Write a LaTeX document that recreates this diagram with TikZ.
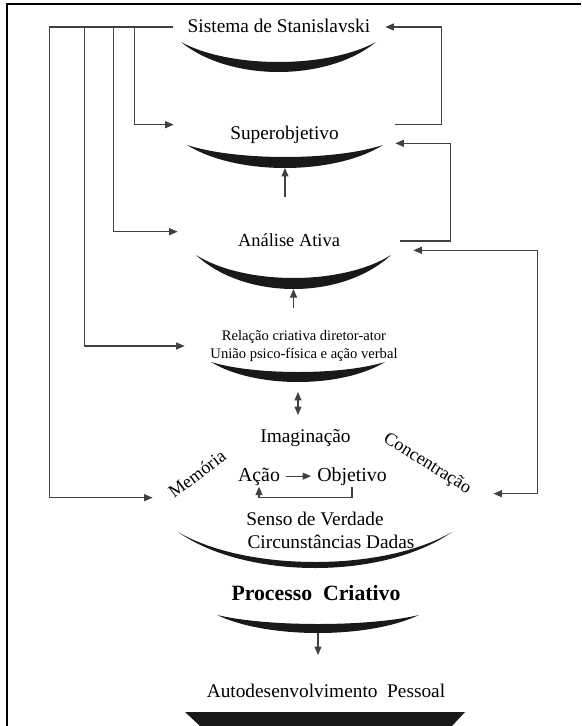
\documentclass[tikz,border=0pt]{standalone}
\usepackage{fontspec}
\setmainfont{Liberation Serif}
\usetikzlibrary{arrows.meta}
\tikzset{
  conn/.style={draw=black!75, line width=0.6pt, -{Triangle[length=1.7mm,width=1.4mm]}},
  dconn/.style={draw=black!75, line width=0.6pt, {Triangle[length=1.7mm,width=1.4mm]}-{Triangle[length=1.7mm,width=1.4mm]}},
  txt/.style={font=\fontsize{11}{13}\selectfont},
  lvl/.style={txt, inner ysep=0pt, text height=8.5pt, text depth=1.7pt},
  pair/.style={font=\fontsize{11.3}{13}\selectfont, inner ysep=1pt, text height=7.5pt, text depth=2pt, anchor=base},
  slant/.style={font=\fontsize{10.3}{12}\selectfont},
  pics/bowl/.style n args={3}{code={
    \fill[black!90] (-#1,0) .. controls (-#1/2,{4*#2/3}) and (#1/2,{4*#2/3}) .. (#1,0)
      .. controls (#1/2,{4*(#2-#3)/3}) and (-#1/2,{4*(#2-#3)/3}) .. (-#1,0) -- cycle;
    \coordinate (-bot) at (0,#2);
  }}
}
\begin{document}
\begin{tikzpicture}[x=0.02cm, y=-0.02cm]
        \useasboundingbox (0,0) rectangle (581,726);

        \node[lvl, minimum width=4.24cm] (sist) at (279,27) {Sistema de Stanislavski};
        \node[lvl, minimum width=4.42cm] (super) at (284.5,134) {Superobjetivo};
        \node[lvl, minimum width=4.44cm, font=\fontsize{10.5}{13}\selectfont] (analise) at (289,241) {Análise Ativa};
        \node[font=\fontsize{8.3}{10.2}\selectfont, align=center, minimum width=4.76cm] (relacao) at (304,346) {Relação criativa diretor-ator\\União psico-física e ação verbal};
        \node[txt, anchor=base] (imag) at (305.5,442) {Imaginação};
        \node[slant, rotate=37] (memoria) at (197,474) {Memória};
        \node[slant, rotate=-32] (concentr) at (427,464) {Concentração};
        \node[pair] (acao) at (259,481) {Ação};
        \node[pair] (objetivo) at (352,481) {Objetivo};
        \node[txt, anchor=base] (senso) at (315,525) {Senso de Verdade};
        \node[txt, anchor=base] (circ) at (331,548) {Circunstâncias Dadas};
        \node[font=\bfseries\fontsize{12.4}{15}\selectfont, anchor=base] (processo) at (316,600) {Processo\ \ Criativo};
        \node[txt, anchor=base] (auto) at (326,697) {Autodesenvolvimento\ \ Pessoal};

        \pic (b1) at (278.5,42) {bowl={97.5}{30}{10}};
        \pic (b2) at (285,145) {bowl={98}{23}{11}};
        \pic (b3) at (293.5,255) {bowl={97.5}{34}{11}};
        \pic (b4) at (298,362) {bowl={87}{20}{10}};
        \pic (b5) at (315,532) {bowl={137}{36}{6}};
        \pic (b6) at (318,615) {bowl={101}{18}{9}};
        \fill[black!90] (185,712) -- (465,712) -- (452,726) -- (200,726) -- cycle;

        \coordinate (u2) at (285,197);
        \coordinate (u3) at (293.5,308);
        \coordinate (u4) at (298,415);
        \coordinate (d6) at (318,655);

        \draw[conn] (u2) -- (b2-bot);
        \draw[conn] (u3) -- (b3-bot);
        \draw[dconn, shorten <=0.2cm] (b4-bot) -- (u4);
        \draw[conn] (b6-bot) -- (d6);
        \draw[conn] (acao) -- (objetivo);
        \draw[conn] (objetivo.south) -- ++(0,11) -| (acao.south);

        \draw[conn] (sist.west) -- ++(-38,0) |- (super.north west);
        \draw[conn] (sist.west) -- ++(-59,0) |- (analise.north west);
        \draw[conn] (sist.west) -- ++(-88,0) |- (relacao.west);
        \draw[conn, shorten >=0.26cm] (sist.west) -- ++(-123,0) |- (memoria.west);

        \draw[conn] (super.north east) -- ++(46,0) |- (sist.east);
        \draw[conn] (analise.east) -- ++(50,0) |- (super.south east);
        \draw[dconn, shorten <=0.38cm, shorten >=0.26cm] (concentr.east) -- ++(63,0) |- (analise.south east);

        \draw[line width=1.2pt] (581,4.4) -- (6.7,4.4) -- (6.7,726);
      \end{tikzpicture}
\end{document}
